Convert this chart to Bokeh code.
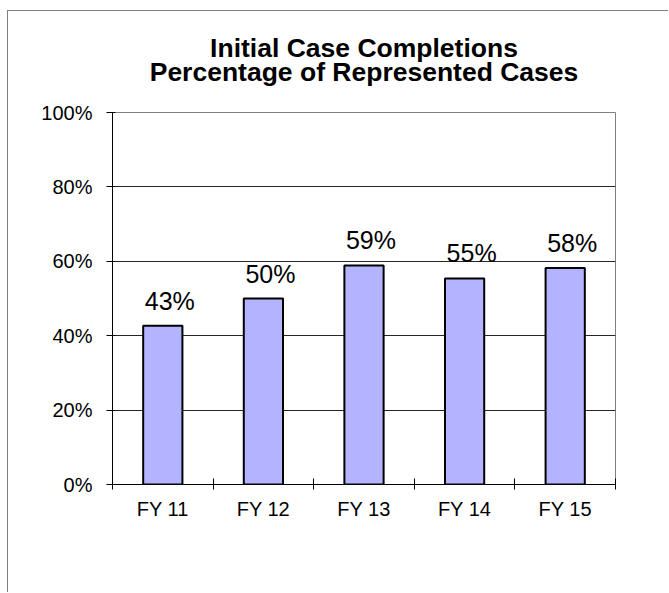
from bokeh.plotting import figure
from bokeh.models import (ColumnDataSource, LabelSet, Range1d, FixedTicker,
                          PrintfTickFormatter, CustomJSTickFormatter, Title)
from bokeh.core.properties import value
from bokeh.embed import file_html
from bokeh.resources import INLINE

# ---- data ----
categories = ["FY 11", "FY 12", "FY 13", "FY 14", "FY 15"]
values = [42.7, 50.0, 58.9, 55.4, 58.2]
labels = [f"{v:.0f}%" for v in values]
y_ticks = [0, 20, 40, 60, 80, 100]

title_lines = ["Initial Case Completions", "Percentage of Represented Cases"]

FONT = "Liberation Sans"

centers = [i + 0.5 for i in range(len(categories))]
boundaries = [float(i) for i in range(len(categories) + 1)]

src = ColumnDataSource(dict(x=centers, top=values, label=labels, cat=categories))

p = figure(width=661, height=582, output_backend="svg", toolbar_location=None,
           x_range=Range1d(0, len(categories)), y_range=Range1d(0, 100),
           min_border_left=104, min_border_right=54, min_border_top=101,
           min_border_bottom=109,
           styles={"margin-left": "7px", "margin-top": "10px",
                   "border-left": "1px solid #808080",
                   "border-top": "1px solid #808080"})

# title: two lines, each centred (later-added titles sit further from the frame)
p.title = None
for i, line in enumerate(reversed(title_lines)):
    t = Title(text=line, align="center", text_font=FONT, text_font_size="26.5px",
              text_font_style="bold", text_color="#000000",
              standoff=(52 if i == 0 else -68))
    p.add_layout(t, "above")

p.vbar(x="x", top="top", width=0.39, bottom=0, source=src,
       fill_color="#B3B3FF", line_color="#000000", line_width=2)

p.add_layout(LabelSet(x="x", y="top", text="label", source=src,
                      x_offset=7, y_offset=16, text_align="center",
                      text_baseline="alphabetic", text_font_size="25px",
                      text_font=value(FONT), text_color="#000000"))

# y axis
p.yaxis.ticker = FixedTicker(ticks=y_ticks)
p.yaxis.formatter = PrintfTickFormatter(format="%d%%")
p.yaxis.major_label_text_font = FONT
p.yaxis.major_label_text_font_size = "20px"
p.yaxis.major_label_text_color = "#000000"
p.yaxis.major_tick_in = 3
p.yaxis.major_tick_out = 6
p.yaxis.minor_tick_line_color = None
p.yaxis.major_label_standoff = 14
p.yaxis.axis_line_color = "#000000"
p.yaxis.major_tick_line_color = "#000000"

# x axis: labels at centres, ticks at category boundaries
p.xaxis.ticker = FixedTicker(ticks=centers, minor_ticks=boundaries)
p.xaxis.formatter = CustomJSTickFormatter(args=dict(cats=categories),
                                          code="return cats[Math.floor(tick)];")
p.xaxis.major_tick_in = 0
p.xaxis.major_tick_out = 0
p.xaxis.minor_tick_in = 6
p.xaxis.minor_tick_out = 5
p.xaxis.minor_tick_line_color = "#000000"
p.xaxis.major_label_text_font = FONT
p.xaxis.major_label_text_font_size = "20px"
p.xaxis.major_label_text_color = "#000000"
p.xaxis.major_label_standoff = 8
p.xaxis.axis_line_color = "#000000"

p.xgrid.grid_line_color = None
p.ygrid.grid_line_color = "#000000"
p.ygrid.grid_line_alpha = 0.85

p.outline_line_color = "#808080"
p.background_fill_color = "#FFFFFF"
p.border_fill_color = "#FFFFFF"

open("out.html", "w").write(file_html(p, INLINE))
